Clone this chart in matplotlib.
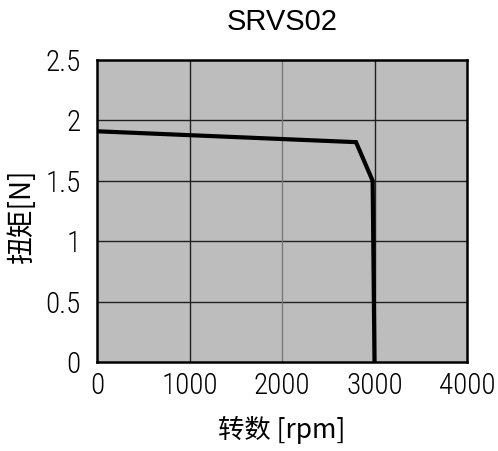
import matplotlib
matplotlib.use("Agg")
import matplotlib.pyplot as plt
from matplotlib import font_manager

# Torque-speed curve data
speed_rpm = [0, 2800, 2980, 3000]
torque_n = [1.91, 1.82, 1.50, 0.0]

x_ticks = [0, 1000, 2000, 3000, 4000]
x_tick_labels = ["0", "1000", "2000", "3000", "4000"]
y_ticks = [0, 0.5, 1, 1.5, 2, 2.5]
y_tick_labels = ["0", "0.5", "1", "1.5", "2", "2.5"]

title = "SRVS02"
x_label = "转数 [rpm]"
y_label = "扭矩[N]"

names = {f.name for f in font_manager.fontManager.ttflist}
tick_family = next(
    (n for n in ["Liberation Sans Narrow", "Roboto Condensed", "Archivo Narrow"] if n in names),
    "Liberation Sans",
)
cjk_family = ["Noto Sans CJK SC", "DejaVu Sans"]

W, H = 498, 451
fig = plt.figure(figsize=(W / 100, H / 100), dpi=100)
left, right, top, bottom = 97, 467, 60, 362
ax = fig.add_axes([left / W, (H - bottom) / H, (right - left) / W, (bottom - top) / H])
ax.set_facecolor("#bdbdbd")

ax.plot(speed_rpm, torque_n, color="black", linewidth=3.0, solid_joinstyle="miter", zorder=3)

ax.set_xlim(0, 4000)
ax.set_ylim(0, 2.5)
ax.set_xticks(x_ticks)
ax.set_yticks(y_ticks)
tick_kw = dict(family=tick_family, fontsize=21, fontweight="light")
ax.set_xticklabels(x_tick_labels, **tick_kw)
ax.set_yticklabels(y_tick_labels, **tick_kw)
ax.tick_params(length=0)
ax.tick_params(axis="x", pad=7)
ax.tick_params(axis="y", pad=12)

for v in y_ticks[1:-1]:
    ax.axhline(v, color="#202020", linewidth=1.0, zorder=1)
for v, c in [(1000, "#202020"), (2000, "#777777"), (3000, "#202020")]:
    ax.axvline(v, color=c, linewidth=1.0, zorder=1)

for s in ax.spines.values():
    s.set_linewidth(1.8)
    s.set_color("black")

fig.text(282 / W, 1 - 22 / H, title, family="Liberation Sans", fontsize=21,
         ha="center", va="center")
ax.set_xlabel(x_label, family=cjk_family, fontsize=19, va="center")
ax.xaxis.set_label_coords(0.5, -(430 - bottom) / (bottom - top))
ax.set_ylabel(y_label, family=cjk_family, fontsize=20, va="center")
ax.yaxis.set_label_coords((22 - left) / (right - left), 0.48)

fig.savefig("out.png", dpi=100)
